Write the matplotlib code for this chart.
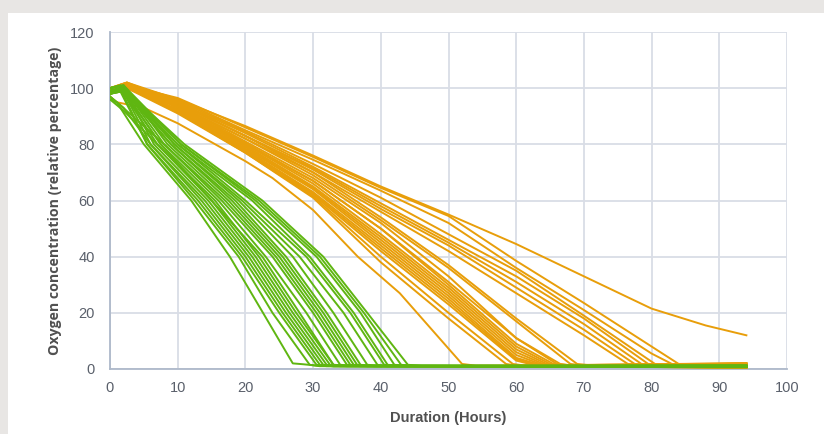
import matplotlib
matplotlib.use("Agg")
import matplotlib.pyplot as plt

# ---------------- data ----------------
x_ticks = [0, 10, 20, 30, 40, 50, 60, 70, 80, 90, 100]
y_ticks = [0, 20, 40, 60, 80, 100, 120]
x_label = "Duration (Hours)"
y_label = "Oxygen concentration (relative percentage)"

# Green runs: (hours, oxygen %)
G01 = ([0, 1, 5, 12, 17.7, 22.6, 27.0, 28.5, 31, 94], [96, 95, 80, 60, 40, 20, 2.0, 1.7, 1.1, 1.0])
G02 = ([0, 1.5, 5.5, 12.5, 19.0, 24.0, 29.5, 31, 94], [98, 99, 80, 60, 40, 20, 1.5, 1.0, 0.8])
G03 = ([0, 1.5, 5.5, 13.0, 19.5, 25.0, 30.5, 32, 94], [99, 100, 80, 60, 40, 20, 1.5, 1.0, 0.9])
G04 = ([0, 2.0, 6.0, 13.5, 20.0, 25.5, 31.0, 33, 94], [97, 93, 80, 60, 40, 20, 1.5, 1.2, 1.1])
G05 = ([0, 1.5, 6.0, 14.0, 20.5, 26.0, 31.5, 33, 94], [100, 101, 80, 60, 40, 20, 1.5, 0.9, 0.7])
G06 = ([0, 2.0, 6.5, 14.5, 21.0, 26.5, 32.0, 34, 94], [98, 100, 80, 60, 40, 20, 1.5, 1.1, 1.2])
G07 = ([0, 1.5, 7.0, 15.0, 21.5, 27.0, 32.5, 34, 94], [99, 100, 80, 60, 40, 20, 1.5, 1.0, 0.9])
G08 = ([0, 2.0, 7.0, 15.5, 22.0, 27.5, 33.0, 35, 94], [96, 92, 80, 60, 40, 20, 1.5, 1.2, 1.0])
G09 = ([0, 1.5, 7.5, 15.0, 22.5, 28.0, 33.0, 35, 94], [100, 101, 80, 60, 40, 20, 1.5, 1.0, 0.6])
G10 = ([0, 2.0, 7.5, 16.0, 23.0, 29.0, 34.0, 36, 94], [98, 99, 80, 60, 40, 20, 1.5, 1.1, 1.3])
G11 = ([0, 2.0, 8.0, 16.5, 24.0, 30.0, 35.0, 37, 94], [99, 100, 80, 60, 40, 20, 1.5, 1.0, 0.8])
G12 = ([0, 1.5, 8.0, 17.0, 24.5, 30.5, 35.5, 37, 94], [97, 94, 80, 60, 40, 20, 1.5, 1.1, 1.0])
G13 = ([0, 2.0, 8.5, 17.5, 25.0, 31.0, 36.0, 38, 94], [100, 101, 80, 60, 40, 20, 1.5, 1.0, 1.1])
G14 = ([0, 2.0, 9.0, 18.0, 25.5, 31.5, 36.5, 38, 94], [99, 100, 80, 60, 40, 20, 1.5, 1.2, 0.9])
G15 = ([0, 2.0, 9.0, 18.5, 26.0, 32.0, 37.0, 39, 94], [98, 99, 80, 60, 40, 20, 1.5, 1.0, 0.7])
G16 = ([0, 2.0, 9.5, 19.0, 27.0, 33.0, 38.0, 40, 94], [99, 100, 80, 60, 40, 20, 1.5, 1.1, 1.2])
G17 = ([0, 2.0, 9.5, 19.5, 28.0, 34.5, 39.5, 41, 94], [100, 101, 80, 60, 40, 20, 1.5, 1.0, 1.0])
G18 = ([0, 2.0, 10.0, 20.0, 29.0, 35.5, 40.5, 42, 94], [98, 99, 80, 60, 40, 20, 1.5, 1.2, 0.8])
G19 = ([0, 2.0, 10.0, 21.0, 29.5, 36.0, 41.0, 43, 94], [99, 100, 80, 60, 40, 20, 1.5, 1.0, 1.1])
G20 = ([0, 2.0, 10.5, 21.5, 30.5, 37.0, 42.0, 44, 94], [100, 101, 80, 60, 40, 20, 1.5, 1.1, 0.9])
G21 = ([0, 2.0, 10.5, 22.0, 31.0, 37.5, 43.0, 45, 94], [99, 100, 80, 60, 40, 20, 1.5, 1.0, 1.2])
G22 = ([0, 2.0, 11.0, 22.5, 31.5, 38.0, 44.0, 46, 94], [98, 100, 80, 60, 40, 20, 1.5, 1.1, 1.0])

# Orange runs: (hours, oxygen %)
O01 = ([0, 1, 5, 10, 20, 24, 30, 36.6, 42.8, 52, 54, 94], [97, 95, 93, 87.5, 74, 68, 56.6, 40, 27, 1.8, 1.2, 1.5])
O02 = ([0, 2.5, 10, 20, 30, 40, 50, 58.5, 60, 94], [98, 100, 91, 77, 61, 38, 18, 1.8, 1.2, 0.4])
O03 = ([0, 2.5, 10, 20, 30, 40, 50, 59.5, 61, 94], [99, 101, 91.5, 77, 61.5, 40, 20, 1.8, 1.3, 1.9])
O04 = ([0, 2.5, 10, 20, 30, 40, 50, 60, 62, 64, 94], [98, 100.5, 91.5, 77.5, 62, 42, 23, 3, 1.8, 1.2, 0.6])
O05 = ([0, 2.5, 10, 20, 30, 40, 50, 60, 63, 65, 94], [100, 101.5, 92, 78, 63, 44, 25, 4, 1.8, 1.3, 2.0])
O06 = ([0, 2.5, 10, 20, 30, 40, 50, 60, 63.5, 65, 94], [99, 101, 92, 78.5, 64, 45, 26, 5, 1.8, 1.2, 0.3])
O07 = ([0, 2.5, 10, 20, 30, 40, 50, 60, 64, 66, 94], [98, 100, 92.5, 79, 64.5, 46, 27, 6, 1.8, 1.3, 1.7])
O08 = ([0, 2.5, 10, 20, 30, 40, 50, 60, 64.5, 66, 94], [99, 101, 93, 79.5, 65, 47, 28, 7, 1.8, 1.2, 0.8])
O09 = ([0, 2.5, 10, 20, 30, 40, 50, 60, 65, 67, 94], [100, 102, 93, 80, 66, 48, 29, 8, 1.8, 1.3, 2.1])
O10 = ([0, 2.5, 10, 20, 30, 40, 50, 60, 65.5, 67, 94], [99, 101, 93.5, 80, 67, 50, 30, 9, 1.8, 1.2, 0.5])
O11 = ([0, 2.5, 10, 20, 30, 40, 50, 60, 66, 68, 94], [98, 100.5, 94, 81, 68, 52, 33, 11, 1.8, 1.3, 1.6])
O12 = ([0, 2.5, 10, 20, 30, 40, 50, 60, 68, 70, 94], [100, 101.5, 94, 82, 69, 53, 36, 17, 1.8, 1.2, 1.9])
O13 = ([0, 2.5, 10, 20, 30, 40, 50, 60, 69, 71, 94], [99, 101, 94.5, 83, 70, 54, 37, 18, 1.8, 1.3, 0.4])
O14 = ([0, 2.5, 10, 20, 30, 40, 50, 60, 70, 76.5, 78, 94], [98, 100.5, 94, 82, 70, 56, 42, 27, 12, 1.8, 1.3, 1.8])
O15 = ([0, 2.5, 10, 20, 30, 40, 50, 60, 70, 77.5, 79, 94], [99, 101, 94.5, 83, 71, 57, 44, 29, 14, 1.8, 1.2, 0.7])
O16 = ([0, 2.5, 10, 20, 30, 40, 50, 60, 70, 78.5, 80, 94], [100, 102, 95, 83, 71.5, 58, 45, 31, 16, 1.8, 1.3, 2.0])
O17 = ([0, 2.5, 10, 20, 30, 40, 50, 60, 70, 79.5, 81, 94], [99, 101, 95, 84, 72, 59, 46, 33, 18, 1.8, 1.2, 1.7])
O18 = ([0, 2.5, 10, 20, 30, 40, 50, 60, 70, 80.5, 82, 94], [98, 101, 95.5, 84.5, 73, 61, 48, 35, 19, 1.8, 1.3, 1.4])
O19 = ([0, 2.5, 10, 20, 30, 40, 50, 60, 70, 80, 83, 85, 94], [100, 102, 96, 85, 74.5, 63.5, 52, 36, 21, 5.5, 1.8, 1.2, 1.6])
O20 = ([0, 2.5, 10, 20, 30, 40, 50, 60, 70, 80, 84, 86, 94], [99, 101, 96.5, 86, 75.5, 64.5, 54.5, 38.5, 23.5, 8, 1.8, 1.4, 1.9])
O21 = ([0, 2.5, 10, 20, 30, 40, 50, 60, 70, 80, 88, 94], [99, 101.5, 96, 86.5, 76, 65, 55, 44.5, 33, 21.5, 15.5, 12])
O22 = ([0, 2.5, 10, 20, 30, 40, 50, 60, 62.5, 64, 94], [99, 101, 91.5, 78, 62.5, 43, 24, 3.5, 1.8, 1.2, 0.9])
O23 = ([0, 2.5, 10, 20, 30, 40, 50, 60, 66.5, 68, 94], [99, 101, 93.5, 80.5, 67, 50, 31, 11, 1.8, 1.3, 1.2])

green_runs = [G01, G02, G03, G04, G05, G06, G07, G08, G09, G10, G11,
              G12, G13, G14, G15, G16, G17, G18, G19, G20, G21, G22]
orange_runs = [O01, O02, O03, O04, O05, O06, O07, O08, O09, O10, O11, O12,
               O13, O14, O15, O16, O17, O18, O19, O20, O21, O22, O23]

# ---------------- styling ----------------
GREEN = "#5fb611"
ORANGE = "#e89e0a"
GRID = "#d9dde6"
SPINE = "#aeb9ca"
TICKC = "#5a606b"
LABELC = "#505050"

fig = plt.figure(figsize=(8.24, 4.34), dpi=100)
fig.patch.set_facecolor("#e8e6e4")

# white card behind the chart
bg = fig.add_axes([8 / 824, 0, 1 - 8 / 824, 1 - 13 / 434], zorder=-10)
bg.set_facecolor("white")
bg.set_xticks([])
bg.set_yticks([])
for s in bg.spines.values():
    s.set_visible(False)

ax = fig.add_axes([110 / 824, 1 - 369 / 434, (787 - 110) / 824, (369 - 32) / 434], zorder=1)
ax.set_facecolor("white")

for xs, ys in orange_runs:
    ax.plot(xs, ys, color=ORANGE, lw=1.4, solid_joinstyle="round", zorder=3)
for xs, ys in green_runs:
    ax.plot(xs, ys, color=GREEN, lw=1.4, solid_joinstyle="round", zorder=4)

ax.set_xlim(0, 100)
ax.set_ylim(0, 120)
ax.set_xticks(x_ticks)
ax.set_yticks(y_ticks)
ax.grid(True, color=GRID, lw=1.3)
ax.set_axisbelow(True)
for s in ["top", "right"]:
    ax.spines[s].set_visible(False)
for s in ["left", "bottom"]:
    ax.spines[s].set_color(SPINE)
    ax.spines[s].set_linewidth(1.3)
ax.tick_params(length=0, colors=TICKC, labelsize=10.5)
ax.tick_params(axis="x", pad=9)
ax.tick_params(axis="y", pad=11)
for lab in ax.get_xticklabels() + ax.get_yticklabels():
    lab.set_family("Liberation Sans")

ax.set_xlabel(x_label, family="Liberation Sans", fontweight="bold",
              fontsize=10.5, color=LABELC, labelpad=11)
ax.set_ylabel(y_label, family="Open Sans", fontweight="bold",
              fontsize=10.2, color=LABELC, labelpad=6)

fig.savefig("out.png", dpi=100, facecolor=fig.get_facecolor())
